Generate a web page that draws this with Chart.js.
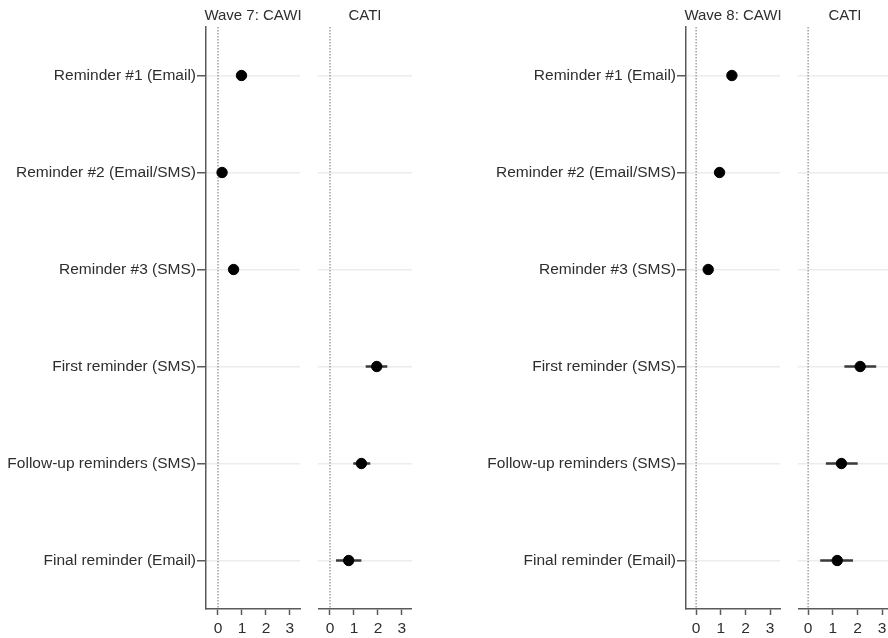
<!DOCTYPE html>
<html>
<head>
<meta charset="utf-8">
<script src="https://cdn.jsdelivr.net/npm/chart.js@4/dist/chart.umd.min.js"></script>
<style>
  html, body { margin: 0; padding: 0; background: #fff; overflow: hidden; }
  #wrap { position: relative; width: 888px; height: 638px; overflow: hidden; background: #fff; }
  #wrap canvas { position: absolute; top: 0; }
</style>
</head>
<body>
<div id="wrap">
  <canvas id="w7cawi" width="310" height="638" style="left:0px"></canvas>
  <canvas id="w7cati" width="94" height="638" style="left:318px"></canvas>
  <canvas id="w8cawi" width="310" height="638" style="left:480px"></canvas>
  <canvas id="w8cati" width="94" height="638" style="left:798px"></canvas>
</div>
<script>
// Reminder types, top to bottom
const categories = [
  'Reminder #1 (Email)',
  'Reminder #2 (Email/SMS)',
  'Reminder #3 (SMS)',
  'First reminder (SMS)',
  'Follow-up reminders (SMS)',
  'Final reminder (Email)'
];
const cawiRows = categories.slice(0, 3);
const catiRows = categories.slice(3, 6);

// Wave 7 estimates with confidence bounds
const wave7CawiEst  = [0.98, 0.17, 0.65];
const wave7CawiLow  = [0.88, 0.07, 0.55];
const wave7CawiHigh = [1.08, 0.27, 0.75];
const wave7CatiEst  = [1.95, 1.31, 0.78];
const wave7CatiLow  = [1.49, 0.97, 0.25];
const wave7CatiHigh = [2.39, 1.68, 1.31];

// Wave 8 estimates with confidence bounds
const wave8CawiEst  = [1.45, 0.95, 0.49];
const wave8CawiLow  = [1.35, 0.85, 0.39];
const wave8CawiHigh = [1.55, 1.05, 0.59];
const wave8CatiEst  = [2.11, 1.35, 1.18];
const wave8CatiLow  = [1.47, 0.72, 0.49];
const wave8CatiHigh = [2.76, 2.01, 1.82];

const xTickValues = [0, 1, 2, 3];
const panelTitles = ['Wave 7: CAWI', 'CATI', 'Wave 8: CAWI', 'CATI'];

const FONT = "'Liberation Sans', Arial, sans-serif";
const TEXT = '#2e2e2e';
const AXIS = '#5a5a5a';

// Title centred over the plot area, plus dotted reference line at x = 0
const panelDecor = {
  id: 'panelDecor',
  beforeDatasetsDraw(chart, args, opts) {
    const { ctx, chartArea } = chart;
    const x0 = chart.scales.x.getPixelForValue(0);
    ctx.save();
    ctx.strokeStyle = '#8a8a8a';
    ctx.lineWidth = 1.2;
    ctx.setLineDash([1.5, 1.5]);
    ctx.beginPath();
    ctx.moveTo(x0, chartArea.top);
    ctx.lineTo(x0, chartArea.bottom);
    ctx.stroke();
    ctx.restore();
  },
  afterDraw(chart, args, opts) {
    const { ctx, chartArea } = chart;
    ctx.save();
    ctx.font = '15px ' + FONT;
    ctx.fillStyle = TEXT;
    ctx.textAlign = 'center';
    ctx.textBaseline = 'alphabetic';
    ctx.fillText(opts.text, (chartArea.left + chartArea.right) / 2, 20);
    ctx.restore();
  }
};

function makePanel(canvasId, title, rows, est, low, high, xMin, xMax, showLabels) {
  const datasets = [{
    data: rows.map((r, i) => ({ x: est[i], y: r })),
    backgroundColor: '#000',
    borderColor: '#000',
    pointRadius: 5.2,
    pointHoverRadius: 5.2,
    order: 0
  }];
  rows.forEach((r, i) => {
    datasets.push({
      data: [{ x: low[i], y: r }, { x: high[i], y: r }],
      showLine: true,
      borderColor: '#3a3a3a',
      borderWidth: 2.6,
      pointRadius: 0,
      order: 1
    });
  });

  return new Chart(document.getElementById(canvasId), {
    type: 'scatter',
    data: { datasets },
    plugins: [panelDecor],
    options: {
      responsive: false,
      animation: false,
      devicePixelRatio: 1,
      layout: {
        autoPadding: false,
        padding: { top: 27, left: 0, right: showLabels ? 10 : 0, bottom: 0 }
      },
      plugins: {
        legend: { display: false },
        tooltip: { enabled: false },
        panelDecor: { text: title }
      },
      scales: {
        x: {
          type: 'linear',
          min: xMin,
          max: xMax,
          afterBuildTicks: s => { s.ticks = xTickValues.map(v => ({ value: v })); },
          afterFit: s => { s.height = 29; },
          grid: {
            drawOnChartArea: false,
            drawTicks: true,
            tickLength: 6,
            tickColor: AXIS,
            tickWidth: 1.5
          },
          border: { display: true, color: AXIS, width: 1.5 },
          ticks: {
            color: TEXT,
            font: { family: FONT, size: 15.5 },
            padding: 4,
            maxRotation: 0,
            autoSkip: false
          }
        },
        y: {
          type: 'category',
          labels: categories,
          offset: true,
          afterFit: s => { s.width = showLabels ? 206 : 0; },
          grid: {
            offset: false,
            color: '#ececec',
            lineWidth: 1.5,
            drawTicks: showLabels,
            tickLength: 9,
            tickColor: AXIS,
            tickWidth: 1.5
          },
          border: { display: showLabels, color: AXIS, width: 1.5 },
          ticks: {
            display: showLabels,
            color: TEXT,
            font: { family: FONT, size: 15.5 },
            padding: 1,
            autoSkip: false
          }
        }
      }
    }
  });
}

makePanel('w7cawi', panelTitles[0], cawiRows, wave7CawiEst, wave7CawiLow, wave7CawiHigh, -0.5, 3.42, true);
makePanel('w7cati', panelTitles[1], catiRows, wave7CatiEst, wave7CatiLow, wave7CatiHigh, -0.5, 3.42, false);
makePanel('w8cawi', panelTitles[2], cawiRows, wave8CawiEst, wave8CawiLow, wave8CawiHigh, -0.41, 3.4, true);
makePanel('w8cati', panelTitles[3], catiRows, wave8CatiEst, wave8CatiLow, wave8CatiHigh, -0.41, 3.4, false);
</script>
</body>
</html>
